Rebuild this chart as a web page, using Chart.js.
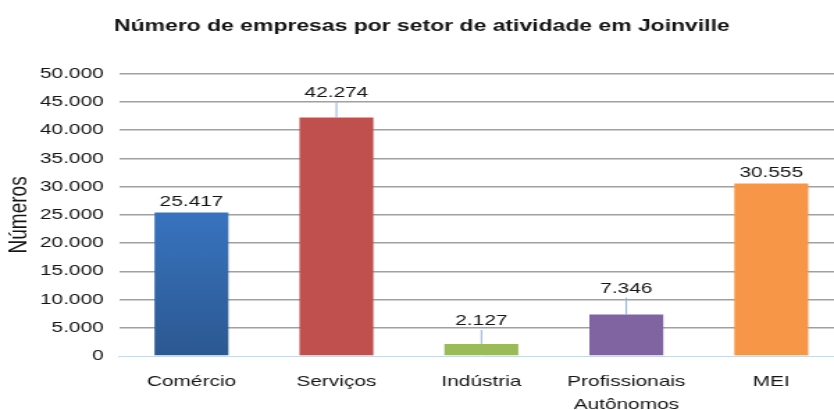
<!DOCTYPE html>
<html>
<head>
<meta charset="utf-8">
<script src="https://cdn.jsdelivr.net/npm/chart.js@4"></script>
<style>
  html, body { margin: 0; padding: 0; background: #fff; }
  #wrap { width: 834px; height: 410px; overflow: hidden; position: relative; }
  /* the chart is laid out narrow and widened to fill the page */
  #chart { position: absolute; left: 0; top: 0; transform: scaleX(1.39); transform-origin: 0 0; }
</style>
</head>
<body>
<div id="wrap"><canvas id="chart" width="612" height="410"></canvas></div>
<script>
let sectors = ['Comércio', 'Serviços', 'Indústria', ['Profissionais', 'Autônomos'], 'MEI'];
let companies = [25417, 42274, 2127, 7346, 30555];
let yTicks = [0, 5000, 10000, 15000, 20000, 25000, 30000, 35000, 40000, 45000, 50000];

let barColors = ['#3a7acc', '#c0504d', '#9bbb59', '#8064a2', '#f79646'];
let labelLift = [0, 14, 12, 15, 0]; // extra room above some bars, joined by a leader line

function fmt(n) {
    return String(n).replace(/\B(?=(\d{3})+(?!\d))/g, '.');
}

function comercioGradient(ctx) {
    let area = ctx.chart.chartArea;
    if (!area) return barColors[0];
    let g = ctx.chart.ctx.createLinearGradient(0, area.top, 0, area.bottom);
    g.addColorStop(0, '#4186da');
    g.addColorStop(0.4, '#3a78c8');
    g.addColorStop(1, '#2c5890');
    return g;
}

// value labels above the bars
const valueLabels = {
    id: 'valueLabels',
    afterDatasetsDraw(chart) {
        let ctx = chart.ctx;
        let meta = chart.getDatasetMeta(0);
        ctx.save();
        ctx.font = '15px "Liberation Sans", Arial, sans-serif';
        ctx.fillStyle = '#151515';
        ctx.textAlign = 'center';
        ctx.textBaseline = 'middle';
        meta.data.forEach((bar, i) => {
            let cy = bar.y - 11 - labelLift[i];
            if (labelLift[i] > 0) {
                ctx.strokeStyle = '#8fb1dc';
                ctx.lineWidth = 1;
                ctx.beginPath();
                ctx.moveTo(bar.x, cy + 9);
                ctx.lineTo(bar.x, bar.y);
                ctx.stroke();
            }
            ctx.fillText(fmt(companies[i]), bar.x, cy);
        });
        ctx.restore();
    }
};

Chart.defaults.font.family = '"Liberation Sans", Arial, sans-serif';
Chart.defaults.color = '#151515';

let chart = new Chart(document.getElementById('chart'), {
    type: 'bar',
    data: {
        labels: sectors,
        datasets: [{
            data: companies,
            backgroundColor: ctx => ctx.dataIndex === 0 ? comercioGradient(ctx) : barColors[ctx.dataIndex],
            borderWidth: 0,
            barPercentage: 0.51,
            categoryPercentage: 1
        }]
    },
    options: {
        responsive: false,
        animation: false,
        layout: { padding: { left: 0, right: 5, top: 0, bottom: 0 } },
        plugins: {
            legend: { display: false },
            tooltip: { enabled: false },
            title: {
                display: true,
                text: 'Número de empresas por setor de atividade em Joinville',
                font: { size: 16.5, weight: 'bold' },
                color: '#151515',
                padding: { top: 17, bottom: 37 }
            }
        },
        scales: {
            x: {
                grid: { display: false, drawTicks: false },
                border: { display: true, color: '#c5d8ef', width: 1 },
                ticks: { font: { size: 15, lineHeight: 1.5 }, padding: 15, maxRotation: 0 },
                afterFit: scale => { scale.height = 54; }
            },
            y: {
                min: 0,
                max: 50000,
                afterBuildTicks: scale => { scale.ticks = yTicks.map(v => ({ value: v })); },
                grid: {
                    color: ctx => ctx.tick.value === 0 ? 'rgba(0,0,0,0)' : '#a0a0a0',
                    lineWidth: 1.5,
                    drawTicks: false
                },
                border: { display: false },
                ticks: { font: { size: 15 }, padding: 11, callback: v => fmt(v) },
                title: {
                    display: true,
                    text: 'Números',
                    font: { size: 19 },
                    padding: { top: 2, bottom: 0 }
                },
                afterFit: scale => { scale.width = 85.6; }
            }
        }
    },
    plugins: [valueLabels]
});
</script>
</body>
</html>
